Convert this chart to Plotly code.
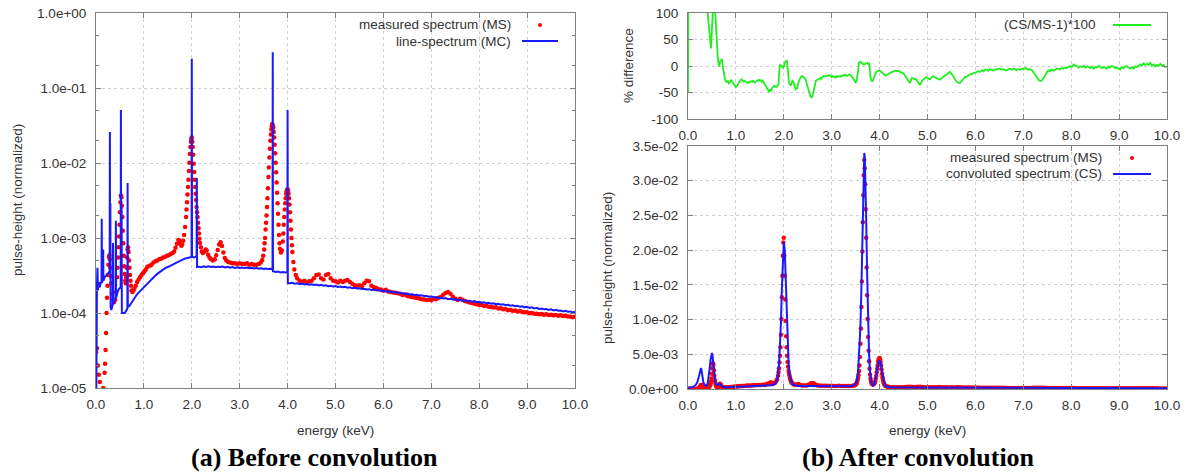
import plotly.graph_objects as go

W, H = 1191, 475

# ---------------- data ----------------
# measured spectrum MS: (energy keV, pulse-height normalized)
ms_points = [
(0.00,3.0e-5),(0.02,3.4e-5),(0.04,2.0e-5),(0.06,1.5e-5),(0.08,1.2e-5),(0.11,9e-6),(0.15,1.0e-5),
(0.18,1.6e-5),(0.19,2.1e-5),(0.20,3.2e-5),(0.21,5.4e-5),(0.22,1.0e-4),(0.23,1.6e-4),(0.24,2.3e-4),
(0.25,3.2e-4),(0.26,4.4e-4),(0.27,5.6e-4),(0.28,5.9e-4),(0.29,5.2e-4),(0.30,4.0e-4),(0.31,3.1e-4),
(0.32,2.5e-4),(0.34,1.8e-4),(0.36,1.5e-4),(0.38,1.4e-4),(0.40,1.5e-4),(0.42,1.9e-4),(0.44,3.0e-4),
(0.45,4.0e-4),(0.46,5.5e-4),(0.47,7.5e-4),(0.48,1.05e-3),(0.49,1.5e-3),(0.50,2.2e-3),(0.51,3.0e-3),
(0.52,3.7e-3),(0.53,3.5e-3),(0.54,2.7e-3),(0.55,1.9e-3),(0.56,1.25e-3),(0.57,8.5e-4),(0.58,5.8e-4),
(0.59,4.2e-4),(0.60,3.3e-4),(0.61,2.7e-4),(0.62,2.5e-4),(0.63,3.0e-4),(0.64,4.0e-4),(0.65,5.5e-4),
(0.66,7.0e-4),(0.67,7.5e-4),(0.68,6.5e-4),(0.69,5.0e-4),(0.70,4.0e-4),(0.71,3.2e-4),(0.72,2.7e-4),
(0.73,2.3e-4),(0.74,2.0e-4),(0.76,1.9e-4),(0.78,2.0e-4),(0.80,2.1e-4),(0.83,2.3e-4),(0.86,2.6e-4),
(0.89,2.8e-4),(0.92,3.0e-4),(0.95,3.2e-4),(0.98,3.4e-4),(1.01,3.6e-4),(1.04,3.8e-4),(1.07,4.1e-4),
(1.10,4.2e-4),(1.13,4.3e-4),(1.16,4.4e-4),(1.20,4.7e-4),(1.24,4.9e-4),(1.28,5.0e-4),(1.32,5.2e-4),
(1.36,5.3e-4),(1.40,5.5e-4),(1.44,5.6e-4),(1.48,5.8e-4),(1.52,5.9e-4),(1.56,6.1e-4),(1.60,6.3e-4),
(1.63,6.6e-4),(1.66,7.4e-4),(1.69,8.4e-4),(1.72,9.4e-4),(1.74,9.2e-4),(1.76,8.4e-4),(1.78,7.9e-4),
(1.80,8.2e-4),(1.82,9.2e-4),(1.84,1.1e-3),(1.86,1.4e-3),(1.88,1.9e-3),(1.89,2.4e-3),(1.90,3.0e-3),
(1.91,3.8e-3),(1.92,4.8e-3),(1.93,6.0e-3),(1.94,7.8e-3),(1.95,1.01e-2),(1.96,1.32e-2),(1.97,1.63e-2),
(1.98,1.92e-2),(1.99,2.11e-2),(2.00,2.18e-2),(2.01,1.92e-2),(2.02,1.63e-2),(2.03,1.29e-2),(2.04,9.8e-3),
(2.05,7.6e-3),(2.06,6.0e-3),(2.07,4.8e-3),(2.08,3.9e-3),(2.09,3.2e-3),(2.10,2.6e-3),(2.11,2.2e-3),
(2.12,1.9e-3),(2.13,1.6e-3),(2.14,1.35e-3),(2.15,1.15e-3),(2.16,9.8e-4),(2.17,8.6e-4),(2.19,7.5e-4),
(2.21,6.6e-4),(2.23,6.3e-4),(2.26,6.6e-4),(2.29,7.0e-4),(2.31,6.8e-4),(2.34,6.0e-4),(2.37,5.5e-4),
(2.40,5.2e-4),(2.44,5.0e-4),(2.48,5.2e-4),(2.51,5.9e-4),(2.54,6.9e-4),(2.57,8.2e-4),(2.60,8.8e-4),
(2.63,7.8e-4),(2.66,6.4e-4),(2.69,5.4e-4),(2.72,5.0e-4),(2.76,4.8e-4),(2.80,4.7e-4),(2.85,4.6e-4),
(2.90,4.6e-4),(2.95,4.5e-4),(3.00,4.6e-4),(3.05,4.5e-4),(3.10,4.5e-4),(3.15,4.6e-4),(3.20,4.4e-4),
(3.25,4.5e-4),(3.30,4.4e-4),(3.35,4.4e-4),(3.40,4.5e-4),(3.44,4.7e-4),(3.47,5.1e-4),(3.49,5.8e-4),
(3.51,7.0e-4),(3.52,8.5e-4),(3.53,1.0e-3),(3.54,1.3e-3),(3.55,1.6e-3),(3.56,2.0e-3),(3.57,2.6e-3),
(3.58,3.4e-3),(3.59,4.6e-3),(3.60,6.5e-3),(3.61,8.7e-3),(3.62,1.18e-2),(3.63,1.55e-2),(3.64,1.98e-2),
(3.65,2.40e-2),(3.66,2.79e-2),(3.67,3.08e-2),(3.68,3.30e-2),(3.69,3.18e-2),(3.70,2.95e-2),(3.71,2.59e-2),
(3.72,2.18e-2),(3.73,1.75e-2),(3.74,1.35e-2),(3.75,1.01e-2),(3.76,7.5e-3),(3.77,5.5e-3),(3.78,4.0e-3),
(3.79,2.9e-3),(3.80,2.1e-3),(3.81,1.5e-3),(3.82,1.1e-3),(3.83,8.5e-4),(3.84,7.2e-4),(3.86,6.4e-4),
(3.88,6.8e-4),(3.90,9.0e-4),(3.91,1.15e-3),(3.92,1.5e-3),(3.93,1.9e-3),(3.94,2.4e-3),(3.95,2.9e-3),
(3.96,3.4e-3),(3.97,3.9e-3),(3.98,4.2e-3),(3.99,4.4e-3),(4.00,4.45e-3),(4.01,4.3e-3),(4.02,3.9e-3),
(4.03,3.4e-3),(4.04,2.8e-3),(4.05,2.2e-3),(4.06,1.7e-3),(4.07,1.3e-3),(4.08,1.0e-3),(4.09,8.0e-4),
(4.10,6.5e-4),(4.12,4.8e-4),(4.14,3.8e-4),(4.17,3.2e-4),
(4.20,2.9e-4),(4.25,2.7e-4),(4.30,2.6e-4),(4.35,2.7e-4),(4.40,2.55e-4),(4.45,2.65e-4),(4.50,2.7e-4),
(4.55,2.9e-4),(4.60,3.2e-4),(4.65,3.25e-4),(4.70,2.9e-4),(4.75,2.8e-4),(4.80,3.2e-4),(4.85,3.3e-4),
(4.90,2.9e-4),(4.95,2.7e-4),(5.00,2.65e-4),(5.05,2.55e-4),(5.10,2.7e-4),(5.15,2.6e-4),(5.20,2.7e-4),
(5.25,2.75e-4),(5.30,2.6e-4),(5.35,2.45e-4),(5.40,2.35e-4),(5.45,2.3e-4),(5.50,2.35e-4),(5.55,2.28e-4),
(5.60,2.5e-4),(5.65,2.7e-4),(5.70,2.65e-4),(5.75,2.3e-4),(5.80,2.2e-4),(5.85,2.16e-4),(5.90,2.08e-4),
(5.95,2.06e-4),(6.00,1.98e-4),(6.05,2.04e-4),(6.10,1.94e-4),(6.15,1.91e-4),(6.20,1.88e-4),(6.25,1.86e-4),
(6.30,1.83e-4),(6.35,1.8e-4),(6.40,1.74e-4),(6.45,1.76e-4),(6.50,1.69e-4),(6.55,1.66e-4),(6.60,1.64e-4),
(6.65,1.61e-4),(6.70,1.58e-4),(6.75,1.56e-4),(6.80,1.53e-4),(6.85,1.51e-4),(6.90,1.49e-4),(6.95,1.5e-4),
(7.00,1.48e-4),(7.05,1.54e-4),(7.10,1.53e-4),(7.15,1.6e-4),(7.20,1.64e-4),(7.25,1.75e-4),(7.30,1.85e-4),
(7.35,1.9e-4),(7.40,1.8e-4),(7.45,1.65e-4),(7.50,1.55e-4),(7.55,1.49e-4),(7.60,1.55e-4),(7.65,1.5e-4),
(7.70,1.44e-4),(7.75,1.41e-4),(7.80,1.38e-4),(7.85,1.36e-4),(7.90,1.33e-4),(7.95,1.31e-4),(8.00,1.28e-4),
(8.05,1.29e-4),(8.10,1.24e-4),(8.15,1.26e-4),(8.20,1.21e-4),(8.25,1.2e-4),(8.30,1.18e-4),(8.35,1.19e-4),
(8.40,1.15e-4),(8.45,1.16e-4),(8.50,1.12e-4),(8.55,1.13e-4),(8.60,1.09e-4),(8.65,1.1e-4),(8.70,1.07e-4),
(8.75,1.08e-4),(8.80,1.05e-4),(8.85,1.06e-4),(8.90,1.03e-4),(8.95,1.02e-4),(9.00,1.02e-4),(9.05,9.9e-5),
(9.10,1.0e-4),(9.15,9.8e-5),(9.20,9.8e-5),(9.25,9.6e-5),(9.30,9.7e-5),(9.35,9.5e-5),(9.40,9.6e-5),
(9.45,9.4e-5),(9.50,9.5e-5),(9.55,9.3e-5),(9.60,9.4e-5),(9.65,9.2e-5),(9.70,9.3e-5),(9.75,9.1e-5),
(9.80,9.2e-5),(9.85,9.0e-5),(9.90,9.0e-5),(9.95,8.8e-5),(10.00,8.9e-5),
]

# line spectrum MC (Monte-Carlo), left panel
mc_points = [
(0.005,5e-6),(0.01,1.7e-4),(0.02,2.4e-4),(0.03,4.0e-4),(0.04,2.0e-4),(0.06,2.6e-4),(0.08,2.2e-4),
(0.10,2.6e-4),(0.115,2.5e-4),(0.12,1.8e-3),(0.125,2.5e-4),(0.14,2.8e-4),(0.15,7.0e-4),(0.155,2.7e-4),
(0.18,3.0e-4),(0.21,3.2e-4),(0.24,3.4e-4),(0.27,3.5e-4),(0.285,3.5e-4),(0.29,2.6e-2),(0.295,3.4e-4),
(0.30,2.9e-3),(0.305,1.2e-4),(0.32,1.1e-4),(0.35,1.3e-4),(0.355,8.6e-4),(0.36,1.3e-4),(0.39,1.5e-4),
(0.41,1.6e-4),(0.415,1.7e-3),(0.42,1.6e-4),(0.45,1.9e-4),(0.48,2.1e-4),(0.515,2.2e-4),(0.52,5.1e-2),
(0.525,2.2e-4),(0.535,2.6e-3),(0.54,1.0e-4),(0.57,1.0e-4),(0.60,1.0e-4),(0.64,1.1e-4),(0.655,1.15e-4),
(0.66,5.4e-3),(0.665,1.2e-4),(0.70,1.25e-4),(0.75,1.4e-4),(0.80,1.6e-4),(0.85,1.75e-4),(0.90,1.9e-4),
(0.95,2.05e-4),(1.00,2.2e-4),(1.05,2.4e-4),(1.10,2.6e-4),(1.15,2.8e-4),(1.20,3.0e-4),(1.25,3.2e-4),
(1.30,3.4e-4),(1.35,3.6e-4),(1.40,3.8e-4),(1.45,4.0e-4),(1.50,4.1e-4),(1.55,4.3e-4),(1.60,4.4e-4),
(1.65,4.6e-4),(1.70,4.8e-4),(1.75,4.9e-4),(1.80,5.1e-4),(1.85,5.3e-4),(1.90,5.4e-4),(1.95,5.5e-4),
(1.995,5.6e-4),(2.00,2.45e-1),(2.005,5.6e-4),(2.05,5.5e-4),(2.10,5.7e-4),(2.105,6.3e-3),(2.11,4.1e-4),
(2.15,4.15e-4),(2.20,4.08e-4),(2.25,4.18e-4),(2.30,4.1e-4),(2.35,4.2e-4),(2.40,4.1e-4),(2.45,4.16e-4),
(2.50,4.08e-4),(2.55,4.15e-4),(2.60,4.1e-4),(2.65,4.16e-4),(2.70,4.06e-4),(2.75,4.12e-4),(2.80,4.03e-4),
(2.85,4.1e-4),(2.90,4.0e-4),(2.95,4.07e-4),(3.00,3.99e-4),(3.05,4.05e-4),(3.10,3.97e-4),(3.15,4.03e-4),
(3.20,3.95e-4),(3.25,4.0e-4),(3.30,3.92e-4),(3.35,3.98e-4),(3.40,3.9e-4),(3.45,3.95e-4),(3.50,3.87e-4),
(3.55,3.93e-4),(3.60,3.85e-4),(3.65,3.88e-4),(3.685,3.8e-4),(3.69,3.0e-1),(3.695,3.6e-4),(3.75,3.52e-4),
(3.80,3.57e-4),(3.85,3.48e-4),(3.90,3.53e-4),(3.95,3.46e-4),(3.995,3.5e-4),(4.00,5.1e-2),(4.005,2.5e-4),
(4.05,2.5e-4),(4.10,2.53e-4),(4.15,2.46e-4),(4.20,2.49e-4),(4.25,2.42e-4),(4.30,2.47e-4),(4.35,2.41e-4),
(4.40,2.44e-4),(4.45,2.38e-4),(4.50,2.42e-4),(4.55,2.36e-4),(4.60,2.39e-4),(4.65,2.33e-4),(4.70,2.37e-4),
(4.75,2.31e-4),(4.80,2.34e-4),(4.85,2.28e-4),(4.90,2.31e-4),(4.95,2.25e-4),(5.00,2.28e-4),(5.05,2.22e-4),
(5.10,2.25e-4),(5.15,2.2e-4),(5.20,2.23e-4),(5.25,2.17e-4),(5.30,2.2e-4),(5.35,2.14e-4),(5.40,2.17e-4),
(5.45,2.12e-4),(5.50,2.14e-4),(5.55,2.09e-4),(5.60,2.11e-4),(5.65,2.06e-4),(5.70,2.08e-4),(5.75,2.03e-4),
(5.80,2.05e-4),(5.85,2.0e-4),(5.90,2.02e-4),(5.95,1.97e-4),(6.00,1.99e-4),(6.05,1.93e-4),(6.10,1.95e-4),
(6.15,1.9e-4),(6.20,1.92e-4),(6.25,1.87e-4),(6.30,1.88e-4),(6.35,1.84e-4),(6.40,1.85e-4),(6.45,1.8e-4),
(6.50,1.82e-4),(6.55,1.77e-4),(6.60,1.78e-4),(6.65,1.74e-4),(6.70,1.75e-4),(6.75,1.71e-4),(6.80,1.72e-4),
(6.85,1.68e-4),(6.90,1.69e-4),(6.95,1.65e-4),(7.00,1.66e-4),(7.05,1.62e-4),(7.10,1.63e-4),(7.15,1.59e-4),
(7.20,1.6e-4),(7.25,1.56e-4),(7.30,1.58e-4),(7.35,1.53e-4),(7.40,1.55e-4),(7.45,1.51e-4),(7.50,1.53e-4),
(7.55,1.48e-4),(7.60,1.51e-4),(7.65,1.46e-4),(7.70,1.48e-4),(7.75,1.44e-4),(7.80,1.46e-4),(7.85,1.41e-4),
(7.90,1.44e-4),(7.95,1.39e-4),(8.00,1.41e-4),(8.05,1.37e-4),(8.10,1.39e-4),(8.15,1.35e-4),(8.20,1.37e-4),
(8.25,1.33e-4),(8.30,1.35e-4),(8.35,1.31e-4),(8.40,1.33e-4),(8.45,1.29e-4),(8.50,1.31e-4),(8.55,1.27e-4),
(8.60,1.29e-4),(8.65,1.25e-4),(8.70,1.27e-4),(8.75,1.23e-4),(8.80,1.25e-4),(8.85,1.21e-4),(8.90,1.23e-4),
(8.95,1.19e-4),(9.00,1.21e-4),(9.05,1.17e-4),(9.10,1.19e-4),(9.15,1.15e-4),(9.20,1.17e-4),(9.25,1.13e-4),
(9.30,1.15e-4),(9.35,1.12e-4),(9.40,1.13e-4),(9.45,1.1e-4),(9.50,1.12e-4),(9.55,1.08e-4),(9.60,1.1e-4),
(9.65,1.07e-4),(9.70,1.08e-4),(9.75,1.05e-4),(9.80,1.07e-4),(9.85,1.04e-4),(9.90,1.05e-4),(9.95,1.02e-4),
(10.00,1.04e-4),
]

# convoluted spectrum CS, right bottom panel
cs_points = [
(0.00,1.5e-4),(0.05,2.0e-4),(0.10,3.0e-4),(0.15,5.0e-4),(0.19,9.0e-4),(0.22,1.6e-3),(0.24,2.3e-3),
(0.26,2.9e-3),(0.27,3.0e-3),(0.28,2.8e-3),(0.30,1.9e-3),(0.32,1.0e-3),(0.35,5.5e-4),(0.38,4.5e-4),
(0.41,8.0e-4),(0.43,1.6e-3),(0.45,2.8e-3),(0.47,4.2e-3),(0.49,5.1e-3),(0.50,5.2e-3),(0.51,4.9e-3),
(0.53,3.6e-3),(0.55,2.0e-3),(0.57,1.0e-3),(0.60,5.5e-4),(0.63,6.0e-4),(0.66,7.5e-4),(0.69,5.5e-4),
(0.73,3.0e-4),(0.80,2.5e-4),(0.90,2.6e-4),(1.00,3.0e-4),(1.20,3.6e-4),(1.40,4.2e-4),(1.60,4.8e-4),
(1.75,5.5e-4),(1.83,8.0e-4),(1.87,1.6e-3),(1.90,3.5e-3),(1.92,6.0e-3),(1.94,9.5e-3),(1.96,1.45e-2),
(1.98,1.9e-2),(2.00,2.12e-2),(2.02,2.0e-2),(2.04,1.6e-2),(2.06,1.1e-2),(2.08,6.5e-3),(2.10,3.8e-3),
(2.12,2.2e-3),(2.15,1.1e-3),(2.20,6.0e-4),(2.30,4.5e-4),(2.50,4.3e-4),(2.80,4.2e-4),(3.10,4.1e-4),
(3.40,4.0e-4),(3.48,5.5e-4),(3.52,1.1e-3),(3.55,2.5e-3),(3.58,5.5e-3),(3.60,9.0e-3),(3.62,1.45e-2),
(3.64,2.15e-2),(3.66,2.85e-2),(3.67,3.2e-2),(3.68,3.4e-2),(3.69,3.35e-2),(3.70,3.1e-2),(3.72,2.45e-2),
(3.74,1.65e-2),(3.76,9.5e-3),(3.78,5.0e-3),(3.80,2.4e-3),(3.83,9.0e-4),(3.86,5.0e-4),(3.89,7.0e-4),
(3.92,1.6e-3),(3.95,2.9e-3),(3.98,3.9e-3),(4.00,4.1e-3),(4.02,3.8e-3),(4.05,2.6e-3),(4.08,1.3e-3),
(4.11,5.5e-4),(4.15,3.0e-4),(4.30,2.5e-4),(5.00,2.2e-4),(6.00,2.0e-4),(7.00,1.65e-4),(8.00,1.4e-4),
(9.00,1.2e-4),(10.00,1.05e-4),
]

# percentage difference (CS/MS-1)*100, right top panel
diff_points = [
(0.00,-50),(0.01,250),(0.20,300),(0.38,150),(0.41,100),(0.44,70),(0.46,55),(0.48,33),(0.50,70),
(0.52,100),(0.54,140),(0.56,130),(0.57,100),(0.59,60),(0.60,43),(0.62,18),(0.64,3),(0.65,-1),(0.67,8),
(0.69,12),(0.71,13),(0.73,-4),(0.76,-23),(0.78,-28),(0.80,-30),(0.83,-28),(0.85,-33),(0.87,-32),
(0.90,-26),(0.92,-29),(0.95,-31),(0.97,-36),(1.00,-40),(1.02,-38),(1.04,-36),(1.07,-30),(1.09,-27),
(1.11,-25),(1.14,-27),(1.16,-29),(1.18,-28),(1.21,-30),(1.24,-32),(1.26,-30),(1.28,-31),(1.31,-29),
(1.34,-30),(1.36,-28),(1.39,-31),(1.42,-29),(1.45,-27),(1.47,-28),(1.49,-26),(1.52,-27),(1.54,-30),
(1.56,-28),(1.59,-33),(1.62,-38),(1.65,-44),(1.67,-47),(1.69,-48),(1.71,-45),(1.73,-47),(1.76,-41),
(1.78,-38),(1.80,-37),(1.82,-39),(1.84,-40),(1.86,-38),(1.89,-35),(1.90,-15),(1.92,2),(1.94,1),
(1.96,0),(1.98,-4),(2.00,-1),(2.02,6),(2.04,9),(2.06,11),(2.07,5),(2.08,-4),(2.10,-20),(2.11,-32),
(2.13,-35),(2.15,-37),(2.17,-30),(2.18,-28),(2.20,-30),(2.21,-32),(2.23,-40),(2.25,-44),(2.27,-42),
(2.28,-42),(2.30,-33),(2.32,-26),(2.35,-21),(2.37,-20),(2.39,-19),(2.42,-22),(2.44,-24),(2.46,-26),
(2.48,-34),(2.51,-45),(2.53,-52),(2.56,-58),(2.58,-59),(2.60,-57),(2.62,-48),(2.65,-32),(2.67,-28),
(2.70,-26),(2.73,-24),(2.76,-23),(2.78,-25),(2.80,-21),(2.83,-19),(2.86,-20),(2.89,-18),(2.92,-19),
(2.94,-17),(2.97,-18),(3.00,-21),(3.02,-19),(3.04,-20),(3.07,-22),(3.10,-19),(3.12,-21),(3.15,-19),
(3.18,-20),(3.20,-18),(3.23,-19),(3.26,-17),(3.28,-17),(3.31,-19),(3.34,-18),(3.36,-16),(3.39,-17),
(3.42,-19),(3.44,-22),(3.46,-25),(3.48,-29),(3.50,-32),(3.52,-27),(3.53,-23),(3.55,-10),(3.57,6),
(3.60,8),(3.62,6),(3.65,5),(3.67,3),(3.70,4),(3.72,5),(3.74,6),(3.76,4),(3.78,5),(3.80,-8),(3.81,-23),
(3.83,-27),(3.85,-30),(3.87,-25),(3.88,-21),(3.91,-15),(3.93,-11),(3.96,-9),(3.99,-8),(4.02,-10),
(4.06,-14),(4.10,-16),(4.13,-18),(4.16,-17),(4.19,-15),(4.22,-13),(4.26,-11),(4.29,-11),(4.33,-9),
(4.36,-10),(4.39,-9),(4.43,-11),(4.46,-12),(4.50,-14),(4.53,-18),(4.57,-23),(4.60,-28),(4.63,-32),
(4.65,-28),(4.67,-23),(4.70,-23),(4.72,-25),(4.75,-24),(4.77,-26),(4.80,-30),(4.84,-36),(4.86,-33),
(4.88,-29),(4.90,-26),(4.94,-23),(4.98,-21),(5.01,-23),(5.05,-25),(5.08,-22),(5.12,-19),(5.15,-21),
(5.19,-23),(5.23,-25),(5.26,-26),(5.30,-23),(5.33,-20),(5.36,-18),(5.40,-16),(5.44,-13),(5.47,-11),
(5.51,-16),(5.54,-21),(5.58,-26),(5.62,-30),(5.65,-32),(5.68,-32),(5.71,-28),(5.75,-23),(5.78,-21),
(5.82,-20),(5.85,-18),(5.89,-15),(5.92,-16),(5.96,-13),(5.99,-13),(6.03,-12),(6.06,-10),(6.10,-11),
(6.13,-8),(6.17,-10),(6.20,-7),(6.24,-7),(6.27,-9),(6.31,-6),(6.34,-8),(6.38,-9),(6.41,-6),(6.45,-7),
(6.48,-5),(6.51,-5),(6.55,-7),(6.58,-6),(6.62,-8),(6.65,-8),(6.69,-6),(6.72,-5),(6.76,-7),(6.79,-5),
(6.83,-6),(6.86,-8),(6.90,-6),(6.93,-7),(6.97,-5),(7.00,-6),(7.04,-4),(7.07,-5),(7.11,-7),(7.14,-6),
(7.18,-8),(7.21,-12),(7.25,-17),(7.28,-22),(7.32,-26),(7.35,-28),(7.38,-28),(7.41,-24),(7.45,-19),
(7.48,-13),(7.52,-8),(7.55,-10),(7.59,-7),(7.63,-9),(7.66,-7),(7.70,-5),(7.73,-5),(7.77,-6),(7.80,-4),
(7.84,-5),(7.87,-3),(7.91,-4),(7.94,-2),(7.98,0),(8.01,-2),(8.05,3),(8.08,1),(8.12,0),(8.15,-3),
(8.19,-1),(8.22,-2),(8.26,0),(8.29,-3),(8.33,-1),(8.36,-2),(8.40,-4),(8.43,-1),(8.47,-5),(8.50,-2),
(8.54,-3),(8.57,0),(8.60,-1),(8.64,-4),(8.67,-2),(8.71,-3),(8.74,-5),(8.78,-1),(8.81,-3),(8.85,0),
(8.88,-1),(8.92,-4),(8.95,-3),(8.99,-5),(9.02,-7),(9.06,-2),(9.09,-4),(9.13,-1),(9.16,0),(9.20,-3),
(9.23,-5),(9.27,-2),(9.30,-5),(9.34,-1),(9.37,-2),(9.40,0),(9.44,3),(9.47,1),(9.51,5),(9.54,2),
(9.58,4),(9.61,2),(9.65,6),(9.68,1),(9.72,3),(9.75,-1),(9.79,2),(9.82,0),(9.86,4),(9.89,1),(9.93,2),
(9.96,-2),(10.00,-1),
]

x_ticks = [0, 1, 2, 3, 4, 5, 6, 7, 8, 9, 10]
x_ticktext = ["0.0", "1.0", "2.0", "3.0", "4.0", "5.0", "6.0", "7.0", "8.0", "9.0", "10.0"]
log_ticks = [1e-5, 1e-4, 1e-3, 1e-2, 1e-1, 1]
log_ticktext = ["1.0e-05", "1.0e-04", "1.0e-03", "1.0e-02", "1.0e-01", "1.0e+00"]
diff_ticks = [-100, -50, 0, 50, 100]
diff_ticktext = ["-100", "-50", "0", "50", "100"]
lin_ticks = [0, 0.005, 0.01, 0.015, 0.02, 0.025, 0.03, 0.035]
lin_ticktext = ["0.0e+00", "5.0e-03", "1.0e-02", "1.5e-02", "2.0e-02", "2.5e-02", "3.0e-02", "3.5e-02"]

ms_e = [p[0] for p in ms_points]; ms_v = [p[1] for p in ms_points]
mc_e = [p[0] for p in mc_points]; mc_v = [p[1] for p in mc_points]
cs_e = [p[0] for p in cs_points]; cs_v = [p[1] for p in cs_points]
df_e = [p[0] for p in diff_points]; df_v = [p[1] for p in diff_points]

# ---------------- figure ----------------
def PX(px):
    return px / W

def PY(py):
    return 1 - py / H

RED = "#ff0000"
BLUE = "#1a1aff"
GREEN = "#22ee22"
FONT = "Liberation Sans, Arial, sans-serif"
TXT = "#333333"
FS = 13.5
SERIF = "Liberation Serif, Times New Roman, serif"

fig = go.Figure()
fig.add_trace(go.Scatter(x=ms_e, y=ms_v, mode="markers", xaxis="x", yaxis="y",
                         marker=dict(color=RED, size=4.5, symbol="circle", line=dict(width=0))))
fig.add_trace(go.Scatter(x=mc_e, y=mc_v, mode="lines", xaxis="x", yaxis="y",
                         line=dict(color=BLUE, width=2)))
fig.add_trace(go.Scatter(x=df_e, y=df_v, mode="lines", xaxis="x2", yaxis="y2",
                         line=dict(color=GREEN, width=1.8)))
fig.add_trace(go.Scatter(x=ms_e, y=ms_v, mode="markers", xaxis="x3", yaxis="y3",
                         marker=dict(color=RED, size=4.5, symbol="circle", line=dict(width=0))))
fig.add_trace(go.Scatter(x=cs_e, y=cs_v, mode="lines", xaxis="x3", yaxis="y3",
                         line=dict(color=BLUE, width=2)))

axis_common = dict(
    showline=True, linecolor="#808080", linewidth=1, mirror="ticks",
    ticks="inside", ticklen=5, tickcolor="#808080", tickwidth=1,
    showgrid=True, gridcolor="#cfcfcf", griddash="dot", gridwidth=1,
    zeroline=False, automargin=False, tickfont=dict(family=FONT, size=FS, color=TXT),
)

xdom_l = [PX(96), PX(575)]
xdom_r = [PX(688), PX(1167)]

fig.update_layout(
    width=W, height=H, autosize=False,
    margin=dict(l=0, r=0, t=0, b=0, pad=0, autoexpand=False),
    paper_bgcolor="white", plot_bgcolor="white",
    showlegend=False,
    xaxis=dict(domain=xdom_l, anchor="y", range=[0, 10], tickvals=x_ticks, ticktext=x_ticktext,
               ticklabelstandoff=4, **axis_common),
    yaxis=dict(domain=[PY(388), PY(13)], anchor="x", type="log", range=[-5, 0],
               tickvals=log_ticks, ticktext=log_ticktext, ticklabelstandoff=6,
               minor=dict(ticks="inside", ticklen=3, tickcolor="#808080", dtick="D2", showgrid=False),
               **axis_common),
    xaxis2=dict(domain=xdom_r, anchor="y2", range=[0, 10], tickvals=x_ticks, ticktext=x_ticktext,
                ticklabelstandoff=4, **axis_common),
    yaxis2=dict(domain=[PY(119), PY(13)], anchor="x2", range=[-100, 100],
                tickvals=diff_ticks, ticktext=diff_ticktext, ticklabelstandoff=6, **axis_common),
    xaxis3=dict(domain=xdom_r, anchor="y3", range=[0, 10], tickvals=x_ticks, ticktext=x_ticktext,
                ticklabelstandoff=4, **axis_common),
    yaxis3=dict(domain=[PY(389), PY(146)], anchor="x3", range=[0, 0.035],
                tickvals=lin_ticks, ticktext=lin_ticktext, ticklabelstandoff=6, **axis_common),
)

ann = []
def text(px, py, s, size=FS, angle=0, xanchor="center", color=TXT, family=FONT, bold=False):
    ann.append(dict(x=PX(px), y=PY(py), xref="paper", yref="paper", text=("<b>%s</b>" % s) if bold else s,
                    showarrow=False, textangle=angle, xanchor=xanchor, yanchor="middle",
                    font=dict(family=family, size=size, color=color)))

text(17, 200, "pulse-height (normalized)", angle=-90)
text(629, 66, "% difference", angle=-90)
text(607, 268, "pulse-height (normalized)", angle=-90)
text(335, 430, "energy (keV)")
text(927, 430, "energy (keV)")
text(314, 457, "(a) Before convolution", size=26, color="black", family=SERIF, bold=True)
text(918, 457, "(b) After convolution", size=26, color="black", family=SERIF, bold=True)
# legends
text(513, 25, "measured spectrum (MS)", xanchor="right")
text(513, 41, "line-spectrum (MC)", xanchor="right")
text(1098, 25, "(CS/MS-1)*100", xanchor="right")
text(1104, 158, "measured spectrum (MS)", xanchor="right")
text(1104, 174, "convoluted spectrum (CS)", xanchor="right")
fig.update_layout(annotations=ann)

shapes = [
    dict(type="circle", xref="paper", yref="paper", x0=PX(538), x1=PX(542), y0=PY(27), y1=PY(23),
         fillcolor=RED, line=dict(width=0)),
    dict(type="line", xref="paper", yref="paper", x0=PX(522), x1=PX(558), y0=PY(41), y1=PY(41),
         line=dict(color=BLUE, width=2)),
    dict(type="line", xref="paper", yref="paper", x0=PX(1113), x1=PX(1151), y0=PY(25), y1=PY(25),
         line=dict(color=GREEN, width=2)),
    dict(type="circle", xref="paper", yref="paper", x0=PX(1130), x1=PX(1134), y0=PY(160), y1=PY(156),
         fillcolor=RED, line=dict(width=0)),
    dict(type="line", xref="paper", yref="paper", x0=PX(1113), x1=PX(1151), y0=PY(174), y1=PY(174),
         line=dict(color=BLUE, width=2)),
]
fig.update_layout(shapes=shapes)

fig.write_html("out.html")
